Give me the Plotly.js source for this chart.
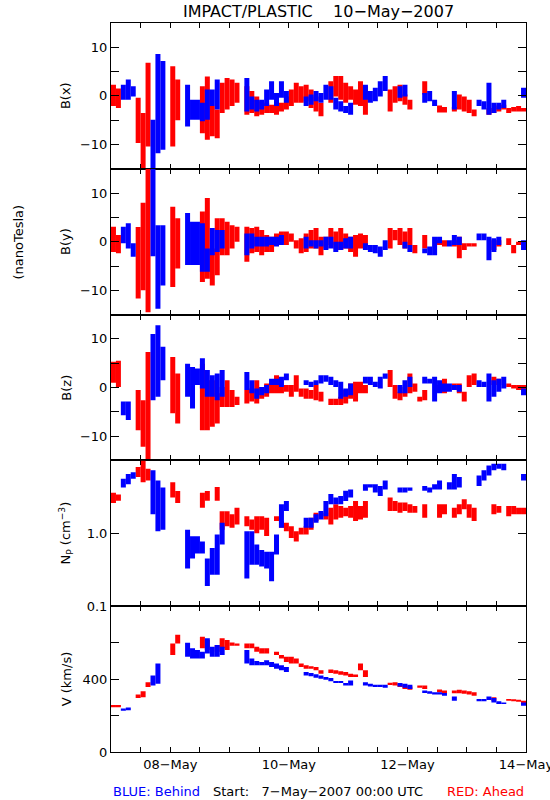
<!DOCTYPE html>
<html>
<head>
<meta charset="utf-8">
<script src="https://cdn.plot.ly/plotly-3.0.1.min.js"></script>
<style>html,body{margin:0;padding:0;background:#fff;}#chart{width:550px;height:800px;}</style>
</head>
<body>
<div id="chart"></div>
<script>
// Hours since 7-May-2007 00:00 UTC (2-hour bins), with low/high extent of the data in each bin.
// ---- B(x) [nT] ----
const bxRedT  = [1,3,11,13,15,25,27,37,39,41,43,45,47,49,51,55,57,59,61,63,65,67,69,71,73,75,77,79,81,83,85,89,91,93,95,97,99,101,103,113,115,117,119,121,127,133,135,139,141,143,145,147,153,155,157,159,161,163,165,167];
const bxRedLo = [-2.1,-2.5,-9.7,-15,-10.4,-10.4,-5.0,-7.7,-9.0,-8.3,-8.7,-3.5,-2.8,-2.1,-1.4,-3.9,-3.5,-4.2,-3.9,-3.5,-3.5,-3.9,-3.2,-2.8,-2.1,-1.4,-1.4,-1.1,-2.5,-3.2,-4.2,-1.4,-0.1,-0.8,-1.4,-0.8,-1.8,-2.1,-3.9,-3.2,-1.4,-1.1,-1.8,-2.8,0.3,-3.4,-3.4,-3.2,-2.8,-3.2,-3.5,-4.2,-3.9,-3.5,-3.2,-2.8,-3.5,-3.2,-3.2,-3.2];
const bxRedHi = [2.3,1.5,-0.4,-3.5,6.8,6.1,3.4,2.0,4.0,-2.1,-2.8,2.7,3.7,3.4,2.7,2.0,1.0,-0.1,-1.1,-1.4,-1.8,-1.8,-1.4,-0.1,1.3,2.7,2.0,2.3,1.3,-0.1,-1.4,3.0,4.1,4.1,2.7,2.0,1.3,3.0,2.0,1.3,2.0,2.3,0.3,-0.8,3.0,-2.0,-2.3,-2.3,0.3,-0.1,-0.8,-2.8,-2.5,-2.5,-2.0,-1.8,-2.5,-2.3,-2.1,-2.5];
const bxBlueT  = [5,7,9,17,19,21,31,33,35,37,39,41,43,55,57,59,61,63,65,67,69,71,79,81,83,85,87,89,91,93,95,97,103,105,107,109,111,117,119,127,129,131,139,149,151,153,155,157,159,167];
const bxBlueLo = [-0.8,-0.8,-0.1,-15,-11.8,-11.1,-6.3,-4.9,-4.9,-5.2,-4.9,-2.1,-2.8,-3.2,-2.8,-3.2,-2.8,-2.1,-0.8,-2.1,-0.4,-1.4,-2.1,-1.8,-1.1,-1.4,-0.8,-0.8,-2.8,-3.2,-3.5,-3.9,-0.8,-1.4,-1.1,-0.1,1.0,-0.4,-0.1,-1.4,-1.1,-2.1,-2.8,-2.1,-2.8,-3.9,-3.5,-2.8,-2.5,-0.4];
const bxBlueHi = [2.3,3.4,2.0,-4.9,8.6,7.2,2.3,-0.8,-0.8,-1.4,1.3,1.3,3.4,3.7,-0.1,-0.8,-0.8,1.3,3.0,0.6,3.0,1.0,-0.1,0.3,1.0,0.6,2.3,2.0,-0.4,-1.1,-2.1,-1.4,2.3,1.0,1.7,3.0,4.1,2.0,2.3,0.6,1.0,-0.8,1.0,-0.8,-1.1,2.7,-1.4,-1.4,-0.8,1.7];
// ---- B(y) [nT] ----
const byRedT  = [1,3,11,13,15,25,27,37,39,41,43,45,47,49,51,55,57,59,61,63,65,67,69,71,73,75,77,79,81,83,85,87,89,91,93,95,97,99,101,103,113,115,117,119,121,123,127,133,135,139,141,143,145,147,155,157,161,163,165];
const byRedLo = [-2.1,-2.4,-11.7,-10.0,-14.5,-9.3,-5.5,-8.3,-7.6,-9.0,-6.9,-2.8,-2.8,-1.4,0,-4.1,-2.4,-2.1,-2.8,-2.1,-2.1,-0.7,-0.3,-0.7,0,-1.4,-2.4,-2.1,-1.4,-1.4,-2.8,-1.4,-0.7,-1.4,-1.7,-1.4,-2.1,-3.1,-1.4,-1.0,-1.4,0.3,-0.7,-1.4,-0.7,-2.4,-1.4,-0.7,-1.0,-1.0,-3.4,-1.7,-1.0,-1.0,-1.7,-1.0,-0.7,-2.4,-0.7];
const byRedHi = [3.1,1.4,3.0,8.0,15,7.2,4.8,6.2,9.0,-1.4,4.8,4.8,4.1,3.4,3.1,3.1,2.8,3.1,2.4,1.4,1.0,1.7,2.1,2.1,1.7,0.3,0.7,1.7,2.4,2.8,1.0,1.0,2.8,2.1,2.8,1.7,1.0,1.4,1.7,1.4,2.8,2.4,2.8,2.1,2.8,-0.7,1.4,0.3,0.3,0.3,1.0,-0.3,-0.3,-0.3,0.3,0.3,0.7,-0.7,0];
const byBlueT  = [5,7,9,17,19,21,31,33,35,37,39,41,43,45,55,57,59,61,63,65,67,69,79,81,83,85,87,89,91,93,95,97,103,105,107,109,111,119,121,127,129,131,133,137,139,141,149,151,153,155,157,167];
const byBlueLo = [-0.3,-1.4,-3.1,-3.0,-13.8,-9.0,-4.8,-4.8,-4.8,-6.2,-6.2,-2.8,-2.1,-1.4,-2.8,-1.4,-1.0,-1.0,-1.0,-0.7,-1.0,-0.7,-1.4,-1.0,-1.4,-1.0,-1.7,-1.4,-2.1,-1.7,-1.4,-1.4,-1.7,-2.1,-2.4,-3.1,-1.7,-1.4,-2.1,-2.4,-2.8,-2.8,-0.3,-1.0,-0.7,-0.7,0.3,0.3,-3.8,-2.1,-0.7,-1.7];
const byBlueHi = [3.1,3.8,-0.3,15,3.4,3.4,5.9,4.1,4.1,3.8,-1.4,2.8,2.4,2.4,1.7,1.7,1.0,1.0,1.0,1.0,1.0,1.4,1.0,0.3,0.3,0.3,1.0,1.0,0,0,0.7,1.0,-0.3,-0.7,-0.7,-1.0,0.3,0,-0.7,-1.4,-1.0,1.0,1.0,0.3,1.4,1.0,1.7,1.7,1.0,0.7,1.0,0.3];
// ---- B(z) [nT] ----
const bzRedT  = [1,3,11,13,15,25,27,37,39,41,43,45,47,49,51,55,57,59,61,63,65,67,69,71,73,75,77,79,81,83,85,89,91,93,95,97,99,101,103,113,115,117,119,121,123,125,127,133,135,139,141,143,145,147,155,157,161,163,165,167];
const bzRedLo = [1.0,0.1,-8.8,-12.2,-15,-5.3,-7.4,-8.8,-8.8,-8.1,-7.4,-4.0,-4.0,-4.0,-3.6,-3.3,-2.9,-3.3,-2.3,-1.9,-1.2,-1.2,-1.2,-0.9,-1.9,-0.9,-1.9,-2.3,-2.3,-2.6,-2.9,-3.6,-3.6,-3.6,-3.3,-2.3,-2.9,-1.2,-1.2,0.1,-2.3,-2.6,-1.9,-1.2,-0.9,-2.9,-2.6,-0.9,-1.2,-0.5,-1.2,-2.9,0.1,0.5,0.5,0.5,0.1,-0.2,-0.5,-0.5];
const bzRedHi = [5.3,5.5,-0.5,-2.6,7.3,6.3,2.9,4.9,1.5,1.5,-1.2,0.1,1.5,-0.5,-1.9,-0.5,-0.2,1.5,0.1,0.8,0.8,2.5,0.1,0.5,0.5,2.5,-0.2,-0.2,-0.5,0.5,-0.9,-2.3,-2.3,-1.9,-0.5,0.8,1.2,1.2,0.5,3.6,0.5,-0.9,0.1,2.9,0.8,-1.9,-0.5,0.5,1.8,0.8,0.8,-0.9,2.5,2.9,2.2,1.8,0.8,0.5,0.5,0.5];
const bzBlueT  = [5,7,17,19,21,31,33,35,37,39,41,43,45,55,57,59,61,63,65,67,69,71,79,81,83,85,87,89,91,93,95,97,103,105,107,109,111,117,119,121,127,129,131,133,135,137,139,141,149,151,153,155,157,159,167];
const bzBlueLo = [-5.7,-6.7,-2.6,-1.9,1.5,-1.9,-4.3,0.5,-0.2,-1.9,-1.9,-2.6,-1.9,-0.5,-1.2,-2.3,-1.6,-1.2,0.5,0.5,0.1,1.5,0.5,0.1,0.5,0.8,1.2,0.5,0.1,-2.3,-1.9,-1.6,0.8,0.5,0.1,-0.2,1.8,-1.2,-1.2,0.1,0.8,0.8,-2.9,-1.2,-0.9,-0.9,-0.5,-0.9,0.1,0.1,-2.9,-1.9,-0.9,-0.2,-1.6];
const bzBlueHi = [-2.9,-2.9,11.0,12.8,8.4,4.9,4.2,3.9,6.0,3.6,2.5,2.9,3.6,3.2,1.5,-0.2,0.1,0.5,1.8,1.8,2.2,2.9,1.5,1.2,1.5,2.5,2.5,2.2,1.5,1.2,-0.2,0.8,2.2,2.2,1.2,2.2,2.9,0.5,1.5,2.2,2.2,1.8,2.2,1.5,0.8,0.8,0.5,0.5,1.5,1.2,2.9,1.5,1.8,2.2,-0.2];
// ---- Np [cm^-3] ----
const npRedT  = [1,3,11,13,15,25,27,37,39,43,45,47,49,51,55,57,59,61,63,67,69,71,73,75,77,79,81,83,87,89,91,93,95,97,99,101,103,113,115,117,119,121,123,127,133,135,139,141,143,145,147,155,157,161,163,165,167];
const npRedLo = [2.6,2.8,5.9,5.0,5.3,3.1,2.6,2.25,2.8,2.8,1.12,1.25,1.19,1.32,1.25,1.12,1.0,1.12,0.92,1.47,1.19,1.07,0.86,0.77,0.96,0.96,1.12,1.47,1.55,1.32,1.55,1.63,1.72,1.63,1.47,1.55,1.63,2.02,2.02,1.92,2.02,1.92,1.92,1.63,1.63,1.82,1.63,1.82,2.13,1.63,1.47,1.82,1.92,1.72,1.82,1.82,1.82];
const npRedHi = [3.6,3.4,8.1,10,7.7,5.0,3.8,3.6,3.8,4.3,2.0,2.0,1.82,2.25,1.72,1.55,1.72,1.72,1.63,1.72,1.47,1.40,1.25,1.07,1.19,1.25,1.63,1.92,1.92,2.25,2.5,2.37,2.25,2.37,2.78,2.37,2.78,3.09,2.78,2.64,2.64,2.50,2.37,2.50,2.50,2.50,2.25,2.50,2.93,2.50,2.25,2.50,2.37,2.37,2.37,2.25,2.25];
const npBlueT  = [5,7,9,17,19,21,31,33,35,37,39,41,43,45,55,57,59,61,63,65,67,69,71,79,81,83,85,87,89,91,93,95,97,103,105,107,109,111,117,119,121,127,129,131,133,137,139,141,149,151,153,155,157,159,167];
const npBlueLo = [4.26,4.7,5.6,1.82,1.07,1.12,0.33,0.45,0.53,0.53,0.19,0.27,0.27,0.70,0.24,0.37,0.37,0.35,0.33,0.22,0.51,1.19,2.02,1.19,1.19,1.40,1.55,1.72,2.50,2.50,2.50,2.78,3.09,3.83,4.26,3.64,3.25,4.0,3.64,3.64,3.83,3.83,3.64,4.0,4.0,4.0,4.0,4.26,4.47,5.3,6.2,7.3,7.7,7.3,5.3];
const npBlueHi = [5.6,6.5,6.9,7.3,5.3,4.26,1.12,0.91,0.91,0.77,0.45,0.63,0.96,1.40,1.07,1.07,0.70,0.59,0.56,0.56,0.96,2.50,2.78,1.63,1.63,1.82,2.02,2.78,3.45,3.09,3.25,3.83,4.0,4.7,4.7,4.7,4.47,5.3,4.26,4.26,4.26,4.47,4.26,4.7,5.3,5.0,6.5,5.9,6.2,7.3,8.5,9.0,9.0,9.0,6.5];
// ---- V [km/s] ----
const vRedT  = [1,3,11,13,15,25,27,37,39,43,45,47,49,51,55,57,59,61,63,67,69,71,73,75,77,79,81,83,85,89,91,93,95,97,99,101,103,113,115,117,119,121,125,127,133,135,139,141,143,145,147,155,161,163,165,167];
const vRedLo = [246,246,296,300,356,532,596,569,559,550,569,559,583,583,569,569,550,541,541,532,513,494,485,485,467,457,457,448,430,434,430,424,420,411,411,448,411,367,365,356,346,341,352,346,328,324,322,322,319,315,309,281,281,278,276,263];
const vRedHi = [258,258,315,333,383,596,643,633,615,587,624,615,601,596,596,596,578,569,569,550,532,522,522,513,485,476,471,467,448,452,448,443,439,430,425,485,448,380,383,374,365,360,365,365,343,337,337,341,337,333,328,300,291,289,287,281];
const vBlueT  = [5,7,17,19,31,33,35,37,39,41,43,45,55,57,59,61,63,65,67,69,71,79,81,83,85,87,89,91,93,95,97,103,105,107,109,111,117,119,121,127,129,131,133,135,139,149,151,153,155,157,159,167];
const vBlueLo = [226,229,365,374,522,513,513,513,541,522,522,532,485,476,476,476,476,467,457,448,439,420,415,408,402,397,388,378,378,365,365,365,360,356,356,352,360,352,346,324,319,315,315,309,281,278,278,285,272,263,263,254];
const vBlueHi = [239,244,420,485,600,569,559,550,624,578,587,578,559,513,500,494,504,494,485,476,467,439,434,426,420,411,406,390,390,378,393,383,374,369,369,369,378,374,369,337,333,328,328,324,304,291,291,304,296,278,272,272];

// Axis ticks: labelled (major) and unlabelled (minor)
const bTickVals = [-10,0,10];
const bTickText = ['\u221210','0','10'];
const bMinorVals = [-5,5];
const npTickVals = [0.1,1];
const npTickText = ['0.1','1.0'];
const vTickVals = [0,400];
const vTickText = ['0','400'];
const vMinorVals = [200,600];
const xLabelHours = [24,72,120,168];
const xLabelText = ['08\u2212May','10\u2212May','12\u2212May','14\u2212May'];
const xMinorHours = [0,12,36,48,60,84,96,108,132,144,156];

const START = Date.UTC(2007,4,7);
function hx(h){ return new Date(START + h*3600000).toISOString().slice(0,19).replace('T',' '); }

const RED = '#ff0000', BLUE = '#0000ff';
function segs(T, LO, HI, color, xa, ya){
  const x=[], y=[];
  T.forEach((t,i)=>{ x.push(hx(t),hx(t),null); y.push(LO[i],HI[i],null); });
  return {type:'scatter', mode:'lines', x:x, y:y, xaxis:xa, yaxis:ya,
          line:{color:color, width:5}, hoverinfo:'skip', showlegend:false, connectgaps:false};
}

const data = [
  segs(bxRedT,bxRedLo,bxRedHi,RED,'x','y'),   segs(bxBlueT,bxBlueLo,bxBlueHi,BLUE,'x','y'),
  segs(byRedT,byRedLo,byRedHi,RED,'x2','y2'), segs(byBlueT,byBlueLo,byBlueHi,BLUE,'x2','y2'),
  segs(bzRedT,bzRedLo,bzRedHi,RED,'x3','y3'), segs(bzBlueT,bzBlueLo,bzBlueHi,BLUE,'x3','y3'),
  segs(npRedT,npRedLo,npRedHi,RED,'x4','y4'), segs(npBlueT,npBlueLo,npBlueHi,BLUE,'x4','y4'),
  segs(vRedT,vRedLo,vRedHi,RED,'x5','y5'),    segs(vBlueT,vBlueLo,vBlueHi,BLUE,'x5','y5')
];

const FONT = 'DejaVu Sans, Liberation Sans, sans-serif';
const domains = [[0.8,1],[0.6,0.8],[0.4,0.6],[0.2,0.4],[0,0.2]];
const layout = {
  width:550, height:800,
  margin:{l:111, r:24, t:23, b:48},
  paper_bgcolor:'#fff', plot_bgcolor:'#fff',
  font:{family:FONT, size:13, color:'#000'},
  showlegend:false,
  title:{text:'IMPACT/PLASTIC\u00a0\u00a0\u00a0\u00a010\u2212May\u22122007', x:0.5, xref:'paper',
         y:0.986, yref:'container', yanchor:'middle', font:{family:FONT, size:16, color:'#000'}},
  annotations:[]
};
for (let i=0;i<5;i++){
  const sx = i===0 ? '' : String(i+1);
  layout['xaxis'+sx] = {
    type:'date', anchor:'y'+sx, domain:[0,1], range:[hx(0),hx(168)],
    tickmode:'array', tickvals:xLabelHours.map(hx), ticktext:xLabelText,
    ticks:'inside', ticklen:5, tickcolor:'#000', tickwidth:1,
    minor:{tickmode:'array', tickvals:xMinorHours.map(hx), ticks:'inside', ticklen:5, tickcolor:'#000', tickwidth:1, showgrid:false},
    showline:true, linecolor:'#000', linewidth:1, mirror:'ticks',
    showgrid:false, zeroline:false, showticklabels:(i===4), ticklabeloverflow:'allow',
    tickfont:{family:FONT, size:13, color:'#000'}
  };
  const ya = {
    anchor:'x'+sx, domain:domains[i],
    ticks:'inside', ticklen:8, tickcolor:'#000', tickwidth:1,
    showline:true, linecolor:'#000', linewidth:1, mirror:'ticks',
    showgrid:false, zeroline:false, tickmode:'array',
    tickfont:{family:FONT, size:13, color:'#000'}
  };
  if (i<3){ ya.range=[-15,15]; ya.tickvals=bTickVals; ya.ticktext=bTickText;
    ya.minor={tickmode:'array', tickvals:bMinorVals, ticks:'inside', ticklen:8, tickcolor:'#000', tickwidth:1, showgrid:false}; }
  else if (i===3){ ya.type='log'; ya.range=[-1,1]; ya.tickvals=npTickVals; ya.ticktext=npTickText; }
  else { ya.range=[0,800]; ya.tickvals=vTickVals; ya.ticktext=vTickText;
    ya.minor={tickmode:'array', tickvals:vMinorVals, ticks:'inside', ticklen:8, tickcolor:'#000', tickwidth:1, showgrid:false}; }
  layout['yaxis'+sx] = ya;
}
const yTitles = ['B(x)','B(y)','B(z)','N<sub>P</sub> (cm<sup>\u22123</sup>)','V (km/s)'];
yTitles.forEach((t,i)=>{
  layout.annotations.push({text:t, xref:'paper', yref:'paper', x:-0.108, y:(domains[i][0]+domains[i][1])/2,
    xanchor:'center', yanchor:'middle', textangle:-90, showarrow:false, font:{family:FONT,size:13,color:'#000'}});
});
layout.annotations.push({text:'(nanoTesla)', xref:'paper', yref:'paper', x:-0.222, y:0.7,
  xanchor:'center', yanchor:'middle', textangle:-90, showarrow:false, font:{family:FONT,size:13,color:'#000'}});
layout.annotations.push({text:'BLUE: Behind', xref:'paper', yref:'paper', x:0, y:-0.054,
  xanchor:'left', yanchor:'middle', showarrow:false, font:{family:FONT,size:13,color:BLUE}});
layout.annotations.push({text:'Start:\u00a0\u00a0\u00a07\u2212May\u22122007 00:00 UTC', xref:'paper', yref:'paper', x:0.242, y:-0.054,
  xanchor:'left', yanchor:'middle', showarrow:false, font:{family:FONT,size:13,color:'#000'}});
layout.annotations.push({text:'RED: Ahead', xref:'paper', yref:'paper', x:1, y:-0.054,
  xanchor:'right', yanchor:'middle', showarrow:false, font:{family:FONT,size:13,color:RED}});

Plotly.newPlot('chart', data, layout, {staticPlot:true, displayModeBar:false});
</script>
</body>
</html>
